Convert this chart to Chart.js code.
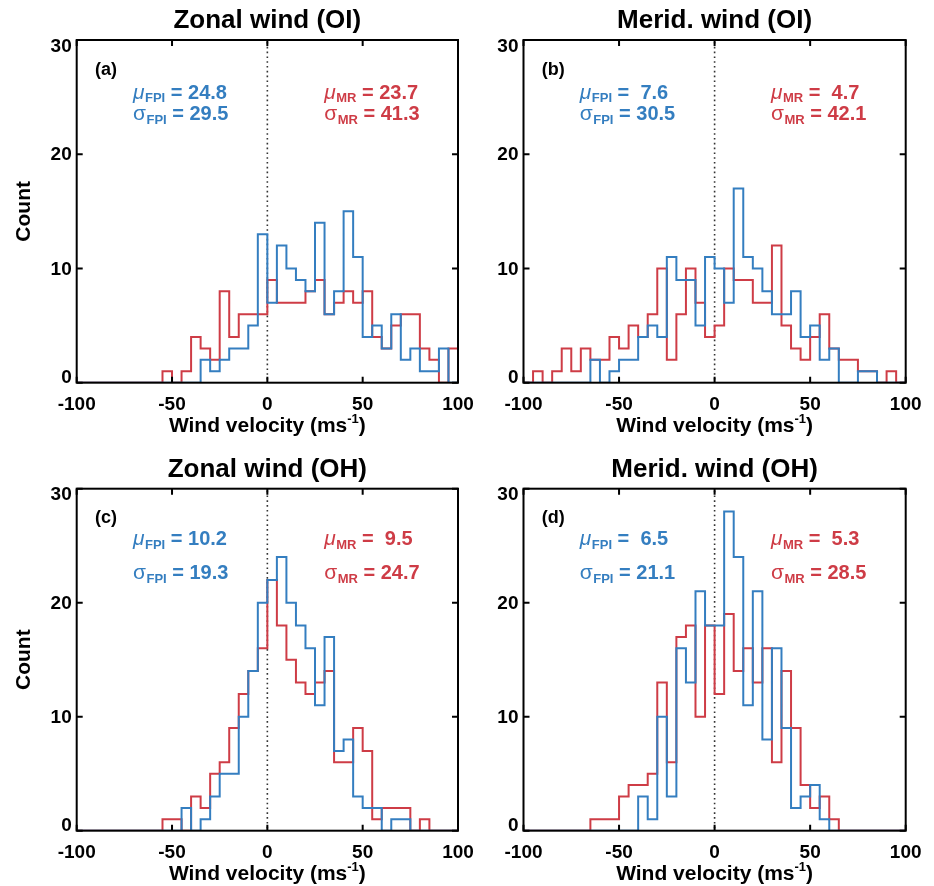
<!DOCTYPE html>
<html>
<head>
<meta charset="utf-8">
<script src="https://cdn.jsdelivr.net/npm/chart.js@4.4.1/dist/chart.umd.min.js"></script>
<style>
  html, body { margin: 0; padding: 0; background: #fff; }
  #wrap { position: relative; width: 934px; height: 886px; background: #fff; }
  #wrap canvas { position: absolute; left: 0; top: 0; }
</style>
</head>
<body>
<div id="wrap">
  <canvas id="pa" width="934" height="886"></canvas>
  <canvas id="pb" width="934" height="886"></canvas>
  <canvas id="pc" width="934" height="886"></canvas>
  <canvas id="pd" width="934" height="886"></canvas>
</div>
<script>
// Histogram bin edges (5 m/s bins) shared by every panel
const binEdges = [-100, -95, -90, -85, -80, -75, -70, -65, -60, -55, -50, -45, -40, -35, -30, -25, -20, -15, -10, -5,
                  0, 5, 10, 15, 20, 25, 30, 35, 40, 45, 50, 55, 60, 65, 70, 75, 80, 85, 90, 95, 100];
const xTicks = [-100, -50, 0, 50, 100];
const yTicks = [0, 10, 20, 30];

// Counts per bin, FPI and meteor radar (MR)
const zonalOI_FPI  = [0,0,0,0,0,0,0,0,0,0,0,0,0, 2,1,2,3,3,5,13, 7,12,10,9,8,14,6,8,15,11,4,5,3,6,2,3,1,1,3,0];
const zonalOI_MR   = [0,0,0,0,0,0,0,0,0, 1,0,1,4,3,2,8,4,6,6,6, 9,7,7,7,8,9,6,7,8,7,8,4,3,5,6,6,3,2,0,3];
const meridOI_FPI  = [0,0,0,0,0,0,0, 2,0,1,2,2,4,5,4,11,9,9,5,11, 10,7,17,11,10,8,6,6,8,4,5,2,3,0,0,1,1,0,0,0];
const meridOI_MR   = [0, 1,0,1,3,1,3,2,2,4,3,5,4,6,10,2,6,10,7,4, 5,10,9,9,7,7,12,5,3,2,4,6,3,2,2,1,1,0,1,0];
const zonalOH_FPI  = [0,0,0,0,0,0,0,0,0,0,0, 2,0,1,3,5,5,10,14,20, 22,24,20,18,16,11,17,7,8,3,2,2,0,1,1,0,0,0,0,0];
const zonalOH_MR   = [0,0,0,0,0,0,0,0,0, 1,1,0,3,2,5,6,9,12,14,16, 22,18,15,13,12,13,14,6,6,9,7,1,2,2,2,0,1,0,0,0];
const meridOH_FPI  = [0,0,0,0,0,0,0,0,0,0,0,0, 3,1,10,3,16,13,21,18, 18,28,24,11,21,8,16,9,2,3,4,1,0,0,0,0,0,0,0,0];
const meridOH_MR   = [0,0,0,0,0,0,0, 1,1,1,3,4,4,5,13,6,17,18,10,18, 12,19,14,16,13,16,6,14,9,4,2,3,1,0,0,0,0,0,0,0];

// Summary statistics printed in each panel
const meanFPI = [24.8, 7.6, 10.2, 6.5];
const stdFPI  = [29.5, 30.5, 19.3, 21.1];
const meanMR  = [23.7, 4.7, 9.5, 5.3];
const stdMR   = [41.3, 42.1, 24.7, 28.5];

const panelTitles = ['Zonal wind (OI)', 'Merid. wind (OI)', 'Zonal wind (OH)', 'Merid. wind (OH)'];
const panelTags   = ['(a)', '(b)', '(c)', '(d)'];
const xTitle = 'Wind velocity (ms';
const xTitleSup = '-1';
const yTitle = 'Count';

const FPI_COLOR = 'rgb(52,126,192)';
const MR_COLOR  = 'rgb(206,60,70)';
const FONT = '"Liberation Sans", Arial, Helvetica, sans-serif';

// Page geometry of each plot frame
const W = 934, H = 886;
const boxes = [
  { left: 76.7,  right: 458,   top: 40,    bottom: 382.7 },
  { left: 523.5, right: 905.7, top: 40,    bottom: 382.7 },
  { left: 76.7,  right: 458,   top: 488.7, bottom: 830.7 },
  { left: 523.5, right: 905.7, top: 488.7, bottom: 830.7 }
];
const statRows = [[58.5, 80.3], [58.5, 80.3], [56.3, 90.6], [56.3, 90.6]];
const TITLE_H = 40, Y_AXIS_W = 60, X_AXIS_H = 50, TICK = 6;

Chart.defaults.font.family = FONT;

// Points for a step outline: each bin's count is held from its left edge to its right edge
function stepPoints(counts) {
  const pts = [];
  for (let i = 0; i < counts.length; i++) pts.push({ x: binEdges[i], y: counts[i] });
  pts.push({ x: binEdges[counts.length], y: counts[counts.length - 1] });
  pts.push({ x: binEdges[counts.length], y: 0 });
  return pts;
}

function fmt(v) { return v.toFixed(1).padStart(4, ' '); }

function drawStat(ctx, x, y, sym, italic, sub, val, color) {
  ctx.fillStyle = color;
  ctx.textAlign = 'left';
  ctx.textBaseline = 'alphabetic';
  ctx.font = (italic ? 'italic ' : '') + '21px ' + FONT;
  ctx.fillText(sym, x, y);
  let cx = x + ctx.measureText(sym).width + 0.5;
  ctx.font = 'bold 13px ' + FONT;
  ctx.fillText(sub, cx, y + 3.5);
  cx += ctx.measureText(sub).width;
  ctx.font = 'bold 20px ' + FONT;
  ctx.fillText(' = ' + val, cx, y);
}

const panelDeco = {
  id: 'panelDeco',
  beforeDatasetsDraw(chart) {
    const { ctx, chartArea: a, scales: { x } } = chart;
    const x0 = x.getPixelForValue(0);
    ctx.save();
    ctx.strokeStyle = '#333';
    ctx.lineWidth = 1.6;
    ctx.setLineDash([1.6, 3.2]);
    ctx.beginPath();
    ctx.moveTo(x0, a.top + 2);
    ctx.lineTo(x0, a.bottom);
    ctx.stroke();
    ctx.restore();
  },
  afterDatasetsDraw(chart, args, o) {
    const { ctx, chartArea: a, scales: { x, y } } = chart;
    const i = o.index;
    ctx.save();
    // frame and inward ticks
    ctx.strokeStyle = '#000';
    ctx.lineWidth = 2;
    ctx.strokeRect(a.left, a.top, a.right - a.left, a.bottom - a.top);
    ctx.beginPath();
    x.ticks.forEach(t => {
      const px = x.getPixelForValue(t.value);
      ctx.moveTo(px, a.bottom); ctx.lineTo(px, a.bottom - TICK);
      ctx.moveTo(px, a.top); ctx.lineTo(px, a.top + TICK);
    });
    y.ticks.forEach(t => {
      const py = y.getPixelForValue(t.value);
      ctx.moveTo(a.left, py); ctx.lineTo(a.left + TICK, py);
      ctx.moveTo(a.right, py); ctx.lineTo(a.right - TICK, py);
    });
    ctx.stroke();

    // y tick labels, kept inside the frame height
    ctx.fillStyle = '#000';
    ctx.font = 'bold 19px ' + FONT;
    ctx.textAlign = 'right';
    ctx.textBaseline = 'middle';
    y.ticks.forEach(t => {
      const py = Math.min(Math.max(y.getPixelForValue(t.value), a.top + 5.5), a.bottom - 5.5);
      ctx.fillText(t.label, a.left - 5, py + 1);
    });

    // x axis title with superscript unit
    const cx = (a.left + a.right) / 2;
    ctx.font = 'bold 21px ' + FONT;
    const wMain = ctx.measureText(xTitle).width;
    const wClose = ctx.measureText(')').width;
    ctx.font = 'bold 13px ' + FONT;
    const wSup = ctx.measureText(xTitleSup).width;
    let tx = cx - (wMain + wSup + wClose) / 2;
    const ty = a.bottom + 49;
    ctx.textAlign = 'left';
    ctx.textBaseline = 'alphabetic';
    ctx.font = 'bold 21px ' + FONT;
    ctx.fillText(xTitle, tx, ty);
    tx += wMain;
    ctx.font = 'bold 13px ' + FONT;
    ctx.fillText(xTitleSup, tx, ty - 9);
    tx += wSup;
    ctx.font = 'bold 21px ' + FONT;
    ctx.fillText(')', tx, ty);

    // y axis title on the left column
    if (i % 2 === 0) {
      ctx.save();
      ctx.translate(24.2, (a.top + a.bottom) / 2);
      ctx.rotate(-Math.PI / 2);
      ctx.textAlign = 'center';
      ctx.textBaseline = 'middle';
      ctx.font = 'bold 21px ' + FONT;
      ctx.fillText(yTitle, 0, 0);
      ctx.restore();
    }

    // panel tag
    ctx.fillStyle = '#000';
    ctx.font = 'bold 18px ' + FONT;
    ctx.textAlign = 'left';
    ctx.fillText(panelTags[i], a.left + 18.3, a.top + 34.5);

    // statistics
    const r = statRows[i];
    drawStat(ctx, a.left + 56.3, a.top + r[0], '\u03BC', true, 'FPI', fmt(meanFPI[i]), FPI_COLOR);
    drawStat(ctx, a.left + 56.3, a.top + r[1], '\u03C3', false, 'FPI', fmt(stdFPI[i]), FPI_COLOR);
    drawStat(ctx, a.left + 247.5, a.top + r[0], '\u03BC', true, 'MR', fmt(meanMR[i]), MR_COLOR);
    drawStat(ctx, a.left + 247.5, a.top + r[1], '\u03C3', false, 'MR', fmt(stdMR[i]), MR_COLOR);
    ctx.restore();
  }
};

function makeChart(canvasId, index, fpi, mr) {
  const b = boxes[index];
  const series = (label, counts, color) => ({
    label, data: stepPoints(counts), borderColor: color, borderWidth: 2,
    stepped: 'before', pointRadius: 0, fill: false, tension: 0
  });
  return new Chart(document.getElementById(canvasId), {
    type: 'line',
    data: { datasets: [series('FPI', fpi, FPI_COLOR), series('MR', mr, MR_COLOR)] },
    options: {
      responsive: false,
      animation: false,
      events: [],
      layout: {
        padding: {
          left: b.left - Y_AXIS_W,
          right: W - b.right,
          top: b.top - TITLE_H,
          bottom: H - b.bottom - X_AXIS_H
        }
      },
      plugins: {
        legend: { display: false },
        tooltip: { enabled: false },
        title: {
          display: true, fullSize: false, text: panelTitles[index], color: '#000',
          font: { size: 26, weight: 'bold', lineHeight: 1.2 },
          padding: { top: 5.5, bottom: 3.3 }
        },
        panelDeco: { index }
      },
      scales: {
        x: {
          type: 'linear', min: -100, max: 100,
          afterBuildTicks: s => { s.ticks = xTicks.map(v => ({ value: v })); },
          afterFit: s => { s.height = X_AXIS_H; },
          grid: { display: false, drawTicks: false },
          border: { display: false },
          ticks: { autoSkip: false, maxRotation: 0, color: '#000', padding: 10.5,
                   font: { size: 19, weight: 'bold' } }
        },
        y: {
          type: 'linear', min: 0, max: 30,
          afterBuildTicks: s => { s.ticks = yTicks.map(v => ({ value: v })); },
          afterFit: s => { s.width = Y_AXIS_W; },
          grid: { display: false, drawTicks: false },
          border: { display: false },
          ticks: { display: false }
        }
      }
    },
    plugins: [panelDeco]
  });
}

makeChart('pa', 0, zonalOI_FPI, zonalOI_MR);
makeChart('pb', 1, meridOI_FPI, meridOI_MR);
makeChart('pc', 2, zonalOH_FPI, zonalOH_MR);
makeChart('pd', 3, meridOH_FPI, meridOH_MR);
</script>
</body>
</html>
